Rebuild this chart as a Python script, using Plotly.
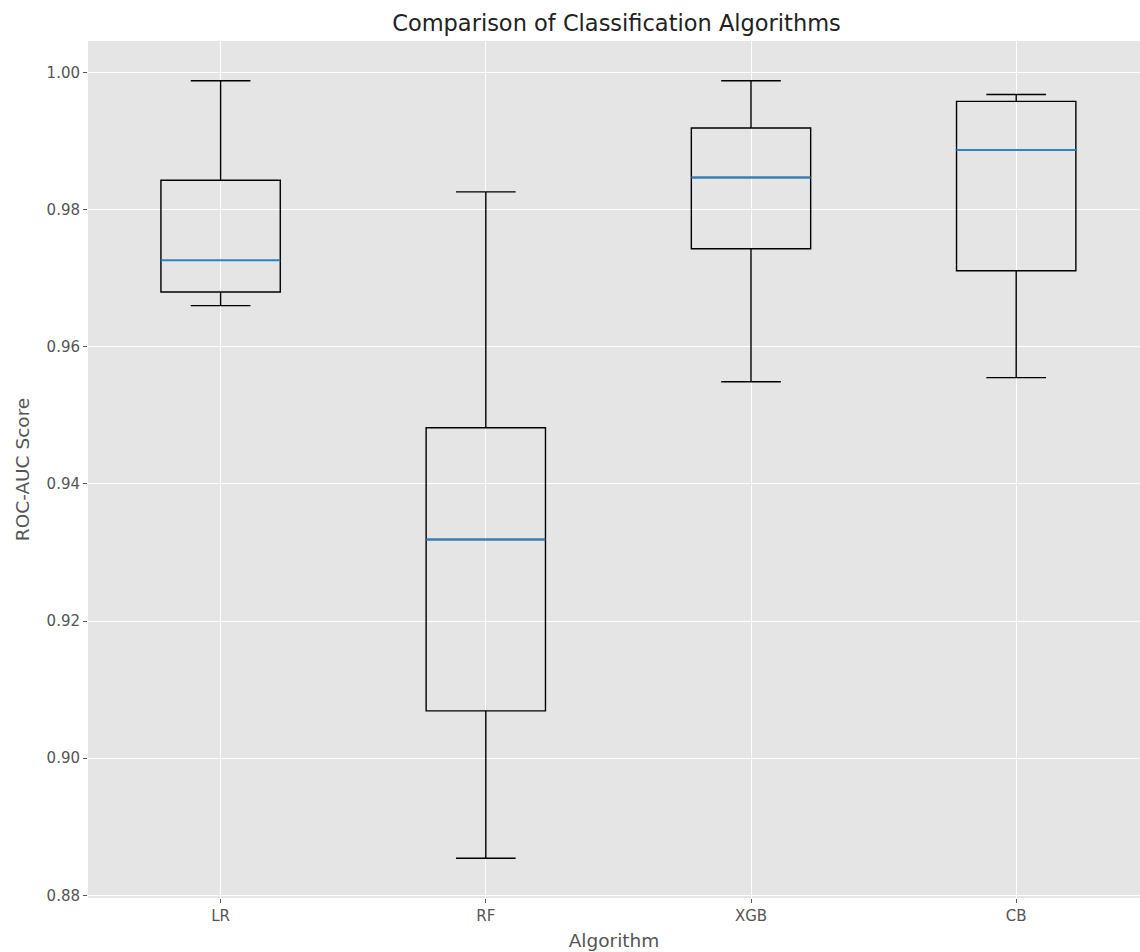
import plotly.graph_objects as go

algorithms = ["LR", "RF", "XGB", "CB"]
positions = [1, 2, 3, 4]
lower_whisker = [0.9660, 0.8854, 0.9549, 0.9555]
q1 = [0.9680, 0.9069, 0.9743, 0.9711]
median = [0.9726, 0.9319, 0.9847, 0.9887]
q3 = [0.9843, 0.9482, 0.9919, 0.9958]
upper_whisker = [0.9988, 0.9826, 0.9988, 0.9968]
y_ticks = [0.88, 0.90, 0.92, 0.94, 0.96, 0.98, 1.00]

W, H = 1140, 952
L, T, B, R = 88, 41, 54, 0
spacing = 265.2
box_w = 0.45

fig = go.Figure()
fig.add_trace(go.Box(
    x=positions, q1=q1, median=median, q3=q3,
    lowerfence=lower_whisker, upperfence=upper_whisker,
    width=box_w, whiskerwidth=0.5,
    line=dict(color="black", width=1.4),
    fillcolor="rgba(0,0,0,0)",
    boxpoints=False, showlegend=False, hoverinfo="skip",
))
for p, m in zip(positions, median):
    fig.add_trace(go.Scatter(
        x=[p - box_w / 2, p + box_w / 2], y=[m, m], mode="lines",
        line=dict(color="#2b83c0", width=1.9), showlegend=False, hoverinfo="skip",
    ))

tickfont = dict(family="DejaVu Sans", size=15, color="#555555")
plot_w = W - L - R
fig.update_layout(
    width=W, height=H,
    margin=dict(l=L, r=R, t=T, b=B),
    paper_bgcolor="white", plot_bgcolor="#E5E5E5",
    font=dict(family="DejaVu Sans"),
    title=dict(text="Comparison of Classification Algorithms",
               x=(616.5 - L) / plot_w, xref="paper", xanchor="center",
               y=1 - 23 / H, yref="container", yanchor="middle",
               font=dict(size=22.5, color="#222222")),
)
fig.update_xaxes(
    range=[0.5, 0.5 + plot_w / spacing], tickvals=positions, ticktext=algorithms,
    showgrid=True, gridcolor="white", gridwidth=1.2, zeroline=False,
    ticks="outside", ticklen=4, tickcolor="#555555", tickfont=tickfont,
    title=dict(text="Algorithm", font=dict(size=18.5, color="#555555"), standoff=10),
    showline=False,
)
fig.update_yaxes(
    range=[0.8796, 1.0046], tickvals=y_ticks, ticktext=[f"{v:.2f}" for v in y_ticks],
    showgrid=True, gridcolor="white", gridwidth=1.2, zeroline=False,
    ticks="outside", ticklen=4, tickcolor="#555555", tickfont=tickfont,
    title=dict(text="ROC-AUC Score", font=dict(size=18.5, color="#555555"), standoff=12),
    showline=False,
)
fig.write_html("out.html", config={"displayModeBar": False},
               post_script="document.body.style.margin='0';")
